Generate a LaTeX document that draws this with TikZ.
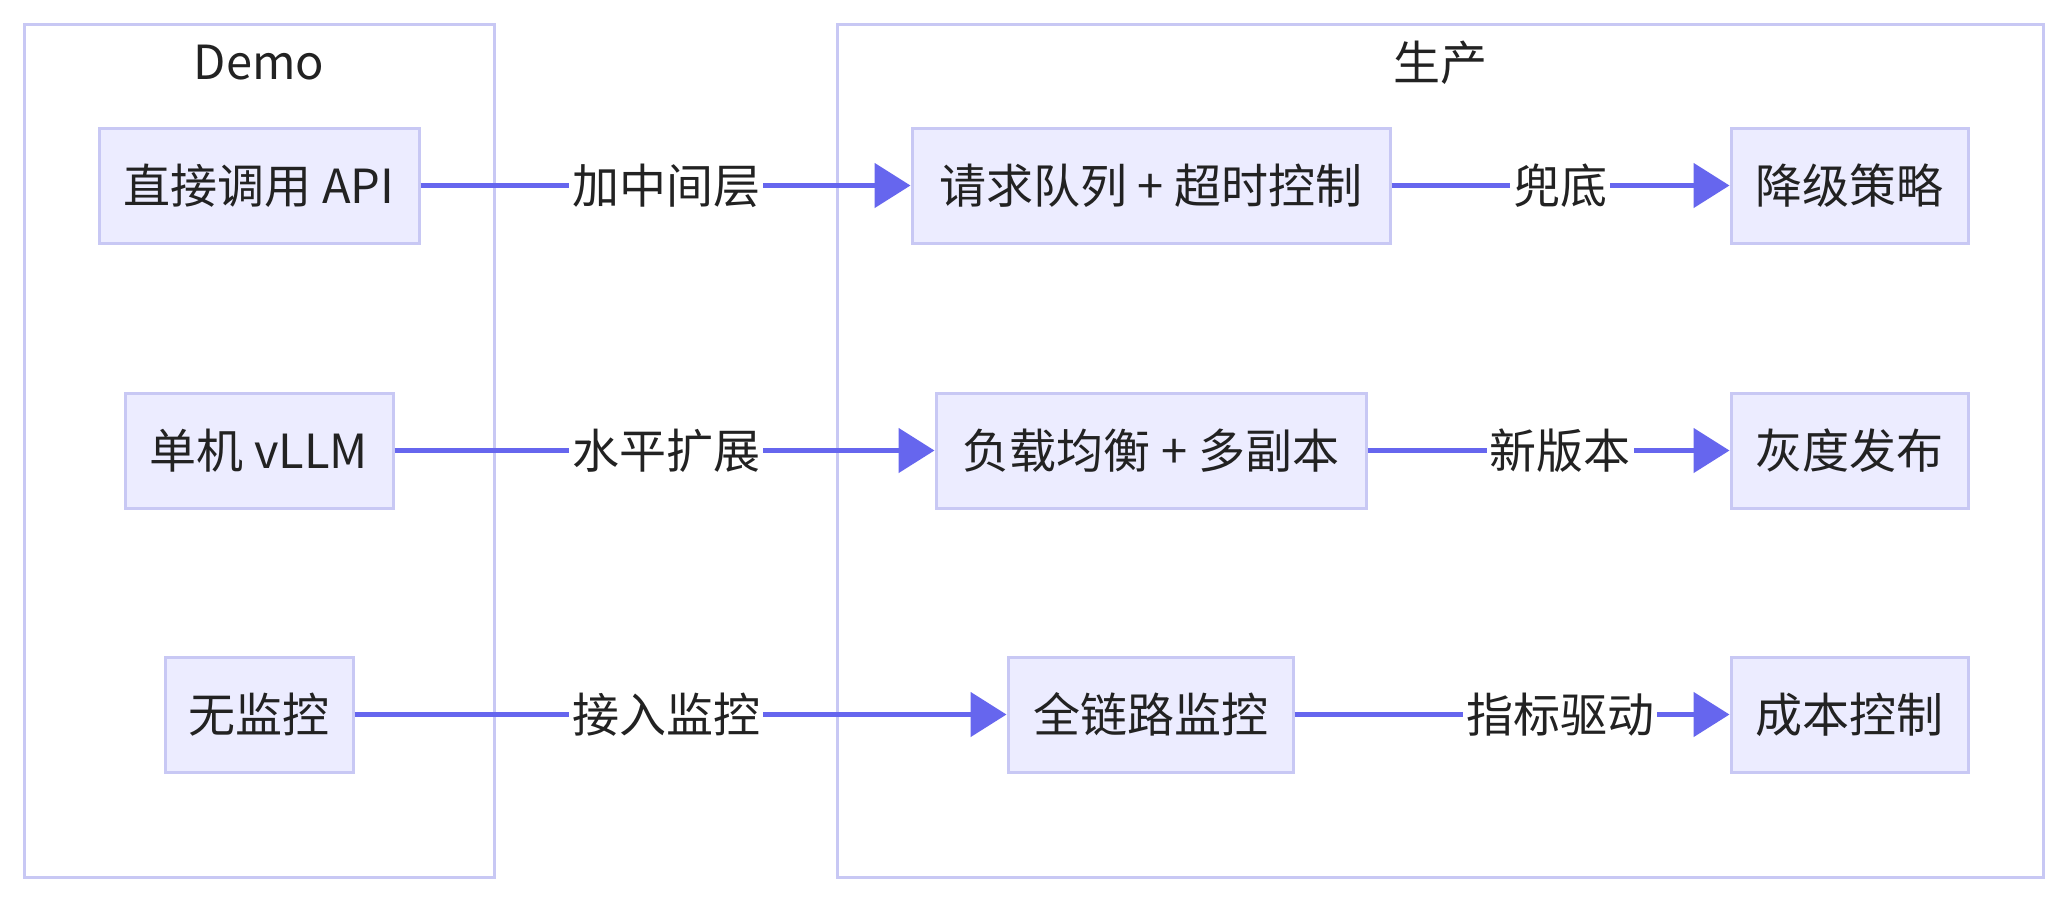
\documentclass[tikz,border=0pt]{standalone}
\usepackage{fontspec}
\setmainfont{Noto Sans CJK SC}
\usetikzlibrary{arrows.meta}
\definecolor{nodefill}{RGB}{236,236,255}
\definecolor{nodestroke}{RGB}{200,200,244}
\definecolor{edgecol}{RGB}{102,102,238}
\definecolor{txt}{RGB}{34,34,34}
\tikzset{
  bigfont/.style={font=\fontsize{47}{56}\selectfont, text=txt},
  box/.style={bigfont, draw=nodestroke, fill=nodefill, line width=3pt, inner sep=0pt, minimum height=115pt},
  cluster/.style={draw=nodestroke, fill=white, line width=3pt},
  lbl/.style={bigfont, fill=white, inner sep=3pt},
  edge/.style={draw=edgecol, line width=5pt, -{Triangle[length=36pt,width=44pt]}},
}
\begin{document}
\begin{tikzpicture}[x=1pt,y=-1pt]
\useasboundingbox (0,0) rectangle (2067,903);
% clusters
\draw[cluster] (24,24) rectangle (494,877);
\draw[cluster] (837,24) rectangle (2043,877);
\node[bigfont] (tdemo) at (259,63) {Demo};
\node[bigfont] (tprod) at (1440,63) {生产};
% nodes
\node[box, minimum width=320pt] (A) at (259,185.5) {直接调用 API};
\node[box, minimum width=478pt] (B) at (1151,185.5) {请求队列 + 超时控制};
\node[box, minimum width=237pt] (C) at (1849.5,185.5) {降级策略};
\node[box, minimum width=268pt] (D) at (259,450.5) {单机 vLLM};
\node[box, minimum width=430pt] (E) at (1151,450.5) {负载均衡 + 多副本};
\node[box, minimum width=237pt] (F) at (1849.5,450.5) {灰度发布};
\node[box, minimum width=188pt] (G) at (259,714.5) {无监控};
\node[box, minimum width=285pt] (H) at (1150.5,714.5) {全链路监控};
\node[box, minimum width=237pt] (I) at (1849.5,714.5) {成本控制};
% edges
\draw[edge] (A) -- (B);
\draw[edge] (B) -- (C);
\draw[edge] (D) -- (E);
\draw[edge] (E) -- (F);
\draw[edge] (G) -- (H);
\draw[edge] (H) -- (I);
% edge labels
\node[lbl] (lab) at (666,185.5) {加中间层};
\node[lbl] (lbc) at (1560,185.5) {兜底};
\node[lbl] (lde) at (666,450.5) {水平扩展};
\node[lbl] (lef) at (1560,450.5) {新版本};
\node[lbl] (lgh) at (666,714.5) {接入监控};
\node[lbl] (lhi) at (1560,714.5) {指标驱动};
\end{tikzpicture}
\end{document}
